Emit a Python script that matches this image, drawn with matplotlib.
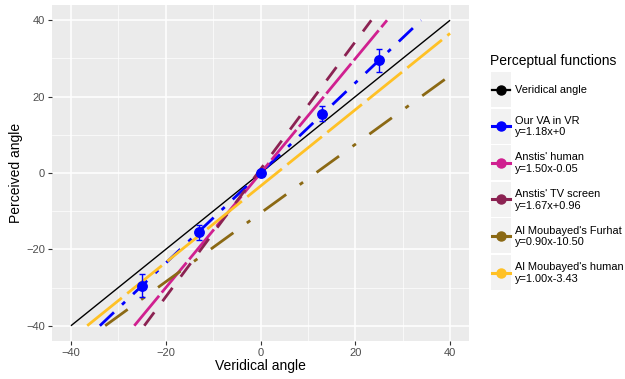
import numpy as np
import matplotlib
matplotlib.use("Agg")
import matplotlib.pyplot as plt
from matplotlib.patches import Rectangle

plt.rcParams["font.family"] = ["Liberation Sans", "DejaVu Sans"]

# perceptual functions: name, slope, intercept
names = ["Veridical angle", "Our VA in VR", "Anstis' human", "Anstis' TV screen",
         "Al Moubayed's Furhat", "Al Moubayed's human"]
equations = ["", "y=1.18x+0", "y=1.50x-0.05", "y=1.67x+0.96",
             "y=0.90x-10.50", "y=1.00x-3.43"]
slopes = [1.00, 1.18, 1.50, 1.67, 0.90, 1.00]
intercepts = [0.0, 0.0, -0.05, 0.96, -10.50, -3.43]
colors = ["black", "#0000FF", "#D02090", "#8B2252", "#8B6914", "#FFC125"]
styles = ["-", (0, (7, 4, 1.5, 4)), (0, (14, 1.5)), (0, (6, 5)),
          (0, (10, 6, 1.5, 6)), (0, (16, 2.5))]
widths = [1.0, 2.0, 2.0, 2.0, 2.0, 2.0]

# measured points (mean perceived angle, error)
veridical = [-25, -13, 0, 13, 25]
perceived = [-29.5, -15.5, 0.0, 15.5, 29.5]
err = [3.0, 2.0, 0.0, 2.0, 3.0]

W, H = 625, 379
fig = plt.figure(figsize=(W / 100, H / 100), dpi=100)
ax = fig.add_axes([52 / W, 1 - 341 / H, (469 - 52) / W, (341 - 5) / H])
ax.set_facecolor("#EBEBEB")

for m, b, c, ls, lw in zip(slopes, intercepts, colors, styles, widths):
    x_lo = max(-40, (-40 - b) / m)
    x_hi = min(40, (40 - b) / m)
    xs = np.array([x_lo, x_hi])
    ax.plot(xs, m * xs + b, color=c, linestyle=ls, lw=lw, zorder=3,
            solid_capstyle="butt", dash_capstyle="butt")

ax.errorbar(veridical, perceived, yerr=err, fmt="o", color="#0000FF",
            ms=6.8, elinewidth=1, capsize=2.5, capthick=1, zorder=5)

ax.set_xlim(-44, 44)
ax.set_ylim(-44, 44)
ticks = [-40, -20, 0, 20, 40]
ax.set_xticks(ticks)
ax.set_yticks(ticks)
ax.set_xticks([-30, -10, 10, 30], minor=True)
ax.set_yticks([-30, -10, 10, 30], minor=True)
ax.grid(which="major", color="white", lw=1.1, zorder=0)
ax.grid(which="minor", color="white", lw=0.5, zorder=0)
ax.set_axisbelow(True)
for s in ax.spines.values():
    s.set_visible(False)
ax.tick_params(which="major", length=3, width=0.8, color="#333333",
               labelsize=8, labelcolor="#4D4D4D", pad=2)
ax.tick_params(which="minor", length=0)
ax.set_xlabel("Veridical angle", fontsize=10, labelpad=1)
ax.set_ylabel("Perceived angle", fontsize=10, labelpad=2)

# legend drawn by hand in pixel coordinates, ggplot-like keys
lax = fig.add_axes([0, 0, 1, 1])
lax.set_xlim(0, W)
lax.set_ylim(H, 0)
lax.axis("off")
lax.text(490, 61, "Perceptual functions", fontsize=10, va="center", ha="left")
top0 = 72
step = 36.6
for i, (n, e, c) in enumerate(zip(names, equations, colors)):
    y0 = top0 + i * step
    lax.add_patch(Rectangle((491, y0), 20, 35, facecolor="#F2F2F2", edgecolor="none"))
    yc = y0 + 17.5
    lax.plot([492, 510], [yc, yc], color=c, lw=2.2 if i else 1.6)
    lax.plot([501], [yc], "o", color=c, ms=6.5)
    label = n if not e else n + "\n" + e
    lax.text(515, yc + 0.5, label, fontsize=7.9, va="center", ha="left", linespacing=1.2)

fig.savefig("out.png", dpi=100)
